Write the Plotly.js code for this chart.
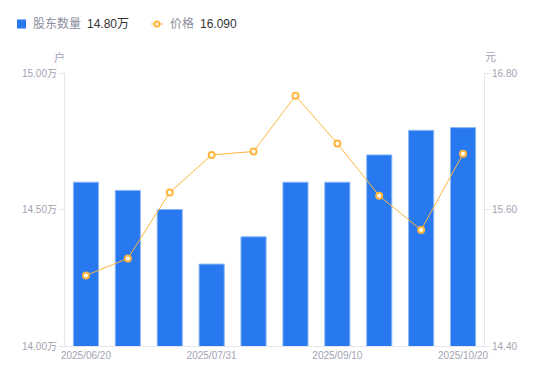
<!DOCTYPE html>
<html>
<head>
<meta charset="utf-8">
<script src="https://cdn.plot.ly/plotly-3.0.1.min.js"></script>
<style>html,body{margin:0;padding:0;background:#fff;}#chart{width:550px;height:381px;}</style>
</head>
<body>
<div id="chart"></div>
<script>
const dates = ["2025/06/20","2025/06/30","2025/07/10","2025/07/31","2025/08/10","2025/08/20","2025/09/10","2025/09/19","2025/09/30","2025/10/20"];
const holders = [14.60, 14.57, 14.50, 14.30, 14.40, 14.60, 14.60, 14.70, 14.79, 14.80]; // 万户
const prices = [15.02, 15.17, 15.75, 16.08, 16.11, 16.60, 16.18, 15.72, 15.42, 16.09];
const xTickDates = ["2025/06/20","2025/07/31","2025/09/10","2025/10/20"];
const yLeftTicks = [14.0, 14.5, 15.0];
const yLeftTickText = ["14.00万", "14.50万", "15.00万"];
const yRightTicks = [14.4, 15.6, 16.8];
const yRightTickText = ["14.40", "15.60", "16.80"];
const seriesNames = ["股东数量", "价格"];

const FONT = "'Liberation Sans', Arial, 'Noto Sans CJK SC', sans-serif";
const BLUE = "#2878F0";
const ORANGE = "#FFB53E";
const GRAY = "#A3A3B3";

const lastHolder = holders[holders.length-1].toFixed(2) + "万";
const lastPrice = prices[prices.length-1].toFixed(3);

const traces = [
  {
    type: "bar", x: dates, y: holders, name: seriesNames[0],
    marker: {color: BLUE, line: {color: "#8DB8F7", width: 1}},
    hoverinfo: "skip"
  },
  {
    type: "scatter", mode: "lines+markers", x: dates, y: prices, yaxis: "y2", name: seriesNames[1],
    line: {color: ORANGE, width: 1},
    marker: {symbol: "circle", size: 6, color: "#ffffff", line: {color: ORANGE, width: 2}},
    hoverinfo: "skip"
  }
];

const L = 65, PW = 419, B = 346, PH = 273;
const px = v => (v - L) / PW;
const py = v => (B - v) / PH;

const layout = {
  width: 550, height: 381,
  margin: {l: 65, r: 66, t: 73, b: 35},
  paper_bgcolor: "#fff", plot_bgcolor: "#fff",
  showlegend: false,
  bargap: 0.40,
  font: {family: FONT, color: GRAY, size: 10},
  xaxis: {
    type: "category", range: [-0.5, dates.length - 0.5],
    tickmode: "array", tickvals: xTickDates, ticktext: xTickDates,
    showline: true, linecolor: "#E6E6EA", linewidth: 1,
    showgrid: false, ticks: "", zeroline: false,
    tickfont: {size: 10, color: GRAY, family: FONT}
  },
  yaxis: {
    range: [14.0, 15.0], tickmode: "array", tickvals: yLeftTicks, ticktext: yLeftTickText,
    showline: true, linecolor: "#E6E6EA", linewidth: 1,
    ticks: "outside", ticklen: 5, tickcolor: "#E6E6EA", tickwidth: 1,
    showgrid: false, zeroline: false,
    tickfont: {size: 10, color: GRAY, family: FONT}
  },
  yaxis2: {
    overlaying: "y", side: "right",
    range: [14.4, 16.8], tickmode: "array", tickvals: yRightTicks, ticktext: yRightTickText,
    showline: true, linecolor: "#E6E6EA", linewidth: 1,
    ticks: "outside", ticklen: 5, tickcolor: "#E6E6EA", tickwidth: 1,
    showgrid: false, zeroline: false,
    tickfont: {size: 10, color: GRAY, family: FONT}
  },
  shapes: [
    {type: "rect", xref: "paper", yref: "paper",
     x0: px(17), x1: px(26), y0: py(19.5), y1: py(28.5),
     fillcolor: BLUE, line: {width: 0}},
    {type: "line", xref: "paper", yref: "paper",
     x0: px(151), x1: px(163), y0: py(24), y1: py(24),
     line: {color: ORANGE, width: 1}},
    {type: "circle", xref: "paper", yref: "paper",
     x0: px(154.5), x1: px(159.5), y0: py(21.5), y1: py(26.5),
     fillcolor: "#fff", line: {color: ORANGE, width: 2}}
  ],
  annotations: [
    {xref: "paper", yref: "paper", x: px(31), y: py(24), xanchor: "left", yanchor: "middle",
     text: seriesNames[0], showarrow: false, font: {size: 12, color: "#8C8C9C", family: FONT}},
    {xref: "paper", yref: "paper", x: px(85), y: py(24), xanchor: "left", yanchor: "middle",
     text: lastHolder, showarrow: false, font: {size: 12, color: "#333333", family: FONT}},
    {xref: "paper", yref: "paper", x: px(168), y: py(24), xanchor: "left", yanchor: "middle",
     text: seriesNames[1], showarrow: false, font: {size: 12, color: "#8C8C9C", family: FONT}},
    {xref: "paper", yref: "paper", x: px(198), y: py(24), xanchor: "left", yanchor: "middle",
     text: lastPrice, showarrow: false, font: {size: 12, color: "#333333", family: FONT}},
    {xref: "paper", yref: "paper", x: px(59), y: py(57), xanchor: "center", yanchor: "middle",
     text: "户", showarrow: false, font: {size: 11, color: GRAY, family: FONT}},
    {xref: "paper", yref: "paper", x: px(490), y: py(57), xanchor: "center", yanchor: "middle",
     text: "元", showarrow: false, font: {size: 11, color: GRAY, family: FONT}}
  ]
};

Plotly.newPlot("chart", traces, layout, {displayModeBar: false, staticPlot: true});
</script>
</body>
</html>
